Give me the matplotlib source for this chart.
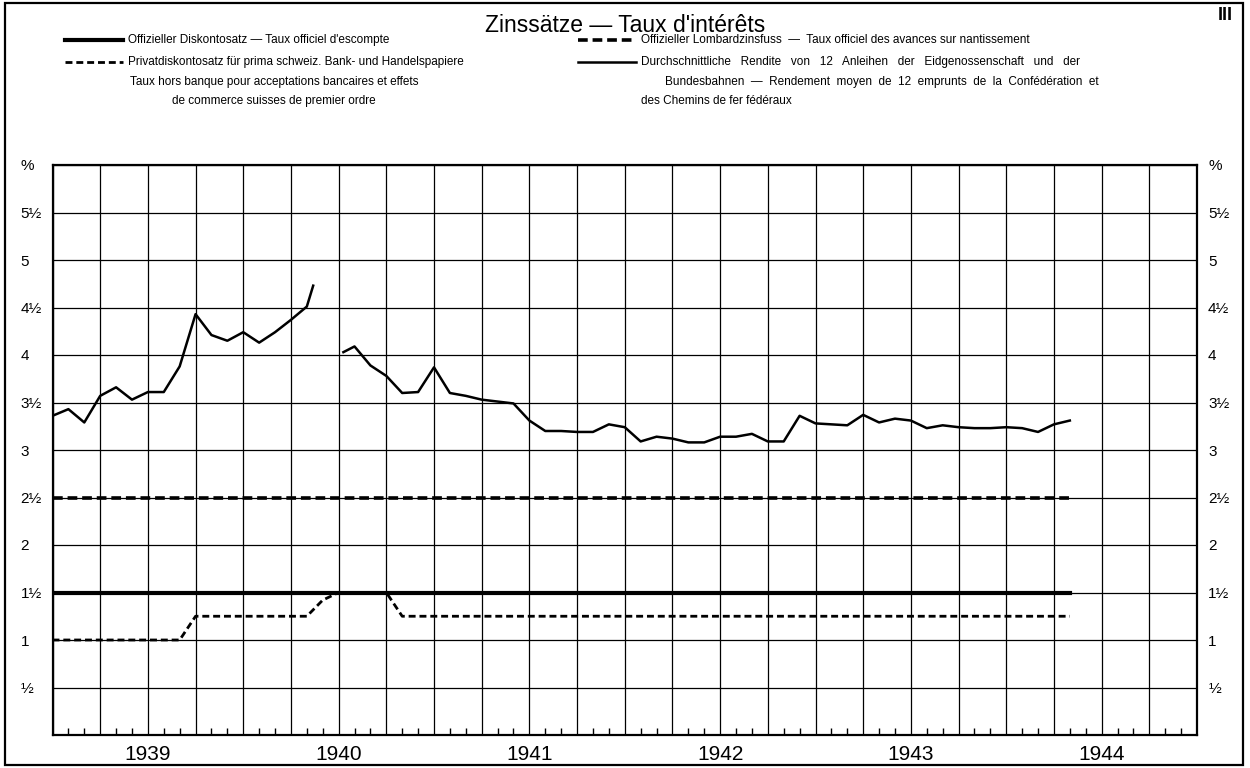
import numpy as np
import matplotlib.pyplot as plt
from matplotlib.lines import Line2D
from matplotlib.patches import Rectangle
from matplotlib.transforms import ScaledTranslation

plt.rcParams['font.family'] = ['Liberation Sans', 'DejaVu Sans']
plt.rcParams['lines.scale_dashes'] = False

# months counted from January 1939 (=0); last value May 1944 (=64)
months = list(range(65))
discount = [1.5] * 65
lombard = [2.5] * 65
private = [1.0] * 9 + [1.25] * 8 + [1.42] + [1.5] * 4 + [1.25] * 43

# bond yield, two pieces (gap in spring/summer 1940)
yield_a_x = list(range(17)) + [16.4]
yield_a = [3.36, 3.43, 3.29, 3.57, 3.66, 3.53, 3.61, 3.61, 3.88, 4.43,
           4.21, 4.15, 4.24, 4.13, 4.24, 4.37, 4.51, 4.73]
yield_b_x = [18.3] + list(range(19, 65))
yield_b = [4.03, 4.09, 3.89, 3.78, 3.60, 3.61, 3.87, 3.60, 3.57, 3.53,
           3.51, 3.49, 3.31, 3.20, 3.20, 3.19, 3.19, 3.27, 3.24, 3.09,
           3.14, 3.12, 3.08, 3.08, 3.14, 3.14, 3.17, 3.09, 3.09, 3.36,
           3.28, 3.27, 3.26, 3.37, 3.29, 3.33, 3.31, 3.23, 3.26, 3.24,
           3.23, 3.23, 3.24, 3.23, 3.19, 3.27, 3.31]

years = ['1939', '1940', '1941', '1942', '1943', '1944']
ylabels = ['', '½', '1', '1½', '2', '2½', '3', '3½', '4', '4½', '5', '5½', '%']

W, H = 1250, 768
fx = lambda p: p / W
fy = lambda p: 1 - p / H

fig = plt.figure(figsize=(12.5, 7.68), dpi=100)
ax = fig.add_axes([fx(52.5), fy(735), fx(1197) - fx(52.5), fy(165) - fy(735)])

ax.plot(months, lombard, color='black', lw=2.6, dashes=(7, 3.5))
ax.plot(months, discount, color='black', lw=3.0)
ax.plot(months, private, color='black', lw=2.0, dashes=(5, 2.8))
ax.plot(yield_a_x, yield_a, color='black', lw=1.8)
ax.plot(yield_b_x, yield_b, color='black', lw=1.8)

ax.set_xlim(0, 72)
ax.set_ylim(0, 6)
qt = np.arange(0, 73, 3)
ax.set_xticks(qt)
ax.set_xticklabels([years[(q - 6) // 12] if q % 12 == 6 else '' for q in qt])
ax.set_xticks([m for m in range(72) if m % 3], minor=True)
ax.tick_params(axis='x', which='major', length=0, labelsize=15, pad=7)
ax.tick_params(axis='x', which='minor', direction='in', length=5, width=1)
ax.set_yticks(np.arange(0, 6.01, 0.5))
ax.set_yticklabels(ylabels)
ax.tick_params(axis='y', length=0, labelsize=11, labelright=True, pad=23)
for t in ax.yaxis.get_major_ticks():
    t.label1.set_horizontalalignment('left')
    t.label2.set_horizontalalignment('left')
    # right-side labels closer to the frame
    t.label2.set_transform(t.label2.get_transform() + ScaledTranslation(-15 / 72, 0, fig.dpi_scale_trans))
ax.grid(True, color='black', lw=0.9)
for s in ax.spines.values():
    s.set_linewidth(1.6)

# outer frame
fig.patches.append(Rectangle((fx(5), fy(765)), fx(1243) - fx(5), fy(3) - fy(765),
                             transform=fig.transFigure, fill=False, lw=1.6, ec='black'))

fig.text(0.5, fy(25), "Zinssätze — Taux d'intérêts", ha='center', va='center', fontsize=16.5)
fig.text(fx(1225), fy(16), 'III', ha='center', va='center', fontsize=13, fontweight='bold')

narrow = ['Liberation Sans Narrow', 'Liberation Sans', 'DejaVu Sans']
leg = dict(fontsize=8.5, va='center', family=narrow)

fig.add_artist(Line2D([fx(65), fx(123)], [fy(40), fy(40)], color='black', lw=3.0))
fig.text(fx(128), fy(40), 'Offizieller Diskontosatz — Taux officiel d\'escompte', **leg)
fig.add_artist(Line2D([fx(65), fx(123)], [fy(62), fy(62)], color='black', lw=2.0, dashes=(5, 2.8)))
fig.text(fx(128), fy(62), 'Privatdiskontosatz für prima schweiz. Bank- und Handelspapiere', **leg)
fig.text(fx(274), fy(82), 'Taux hors banque pour acceptations bancaires et effets', ha='center', **leg)
fig.text(fx(274), fy(101), 'de commerce suisses de premier ordre', ha='center', **leg)

fig.add_artist(Line2D([fx(578), fx(636)], [fy(40), fy(40)], color='black', lw=2.6, dashes=(7, 3.5)))
fig.text(fx(641), fy(40), 'Offizieller Lombardzinsfuss  —  Taux officiel des avances sur nantissement', **leg)
fig.add_artist(Line2D([fx(578), fx(636)], [fy(62), fy(62)], color='black', lw=1.8))
fig.text(fx(641), fy(62), 'Durchschnittliche   Rendite   von   12   Anleihen   der   Eidgenossenschaft   und   der', **leg)
fig.text(fx(665), fy(82), 'Bundesbahnen  —  Rendement  moyen  de  12  emprunts  de  la  Confédération  et', **leg)
fig.text(fx(641), fy(101), 'des Chemins de fer fédéraux', **leg)

fig.savefig('out.png', dpi=100)
